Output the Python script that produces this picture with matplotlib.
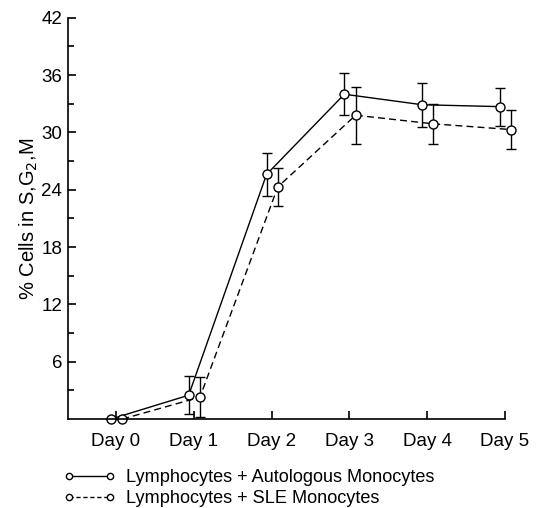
import matplotlib
matplotlib.use("Agg")
import matplotlib.pyplot as plt
from matplotlib.lines import Line2D
import numpy as np

plt.rcParams['font.family'] = ['Liberation Sans', 'DejaVu Sans']
plt.rcParams['font.size'] = 13

# data
days = np.array([0, 1, 2, 3, 4, 5])
day_labels = ["Day 0", "Day 1", "Day 2", "Day 3", "Day 4", "Day 5"]

auto_mean = [0, 2.5, 25.6, 34.0, 32.9, 32.7]
auto_err = [0, 2.0, 2.2, 2.2, 2.3, 2.0]

sle_mean = [0, 2.3, 24.3, 31.8, 30.9, 30.3]
sle_err = [0, 2.1, 2.0, 3.0, 2.1, 2.0]

labels = ["Lymphocytes + Autologous Monocytes", "Lymphocytes + SLE Monocytes"]

fig = plt.figure(figsize=(5.39, 5.08), dpi=100)
ax = fig.add_axes([0.126, 0.175, 0.811, 0.790])

common = dict(color="black", lw=1.0, marker="o", ms=6.5, mfc="white",
              mec="black", mew=1.0, ecolor="black", elinewidth=1.0,
              capsize=3.5, capthick=1.0, clip_on=False)

h1 = ax.errorbar(days - 0.065, auto_mean, yerr=auto_err, ls="-", **common)
h2 = ax.errorbar(days + 0.08, sle_mean, yerr=sle_err, ls=(0, (5, 3)), **common)
for h in (h1, h2):
    for bar in h[2]:
        bar.set_clip_on(False)
    for cap in h[1]:
        cap.set_clip_on(False)

ax.set_xlim(-0.617, 5.0)
ax.set_ylim(0, 42)
ax.set_xticks(days)
ax.set_xticklabels(day_labels, fontsize=13.5)
ax.set_yticks(np.arange(6, 43, 6))
ax.set_yticks(np.arange(3, 42, 6), minor=True)
ax.tick_params(axis="y", labelsize=13.5)

ax.spines["top"].set_visible(False)
ax.spines["right"].set_visible(False)
for s in ("left", "bottom"):
    ax.spines[s].set_linewidth(1.2)

ax.tick_params(axis="y", which="major", direction="in", length=6, width=1.2, pad=4)
ax.tick_params(axis="y", which="minor", direction="in", length=4, width=1.2)
ax.tick_params(axis="x", which="major", direction="in", length=6, width=1.2, pad=10)

ax.set_ylabel("% Cells in S,G$_2$,M", fontsize=14.5, labelpad=1)

lh1 = Line2D([], [], color="black", lw=1.0, marker="o", ms=4.5, mfc="white", mec="black")
lh2 = Line2D([], [], color="black", lw=1.0, ls=(0, (3, 2)), marker="o", ms=4.5, mfc="white", mec="black")
fig.legend([lh1, lh2], labels, loc="upper left", bbox_to_anchor=(0.117, 0.077),
           frameon=False, handlelength=2.9, handletextpad=0.55, labelspacing=0.25,
           borderpad=0, borderaxespad=0, numpoints=2, fontsize=13.1)

fig.savefig("out.png", dpi=100)
